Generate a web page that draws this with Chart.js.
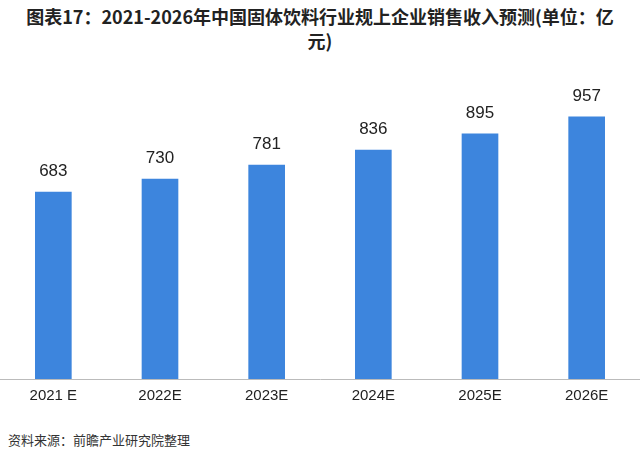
<!DOCTYPE html>
<html><head><meta charset="utf-8">
<script src="https://cdn.jsdelivr.net/npm/chart.js@4"></script>
<style>
body{margin:0;width:640px;height:464px;background:#fff;font-family:"Noto Sans CJK SC",sans-serif;position:relative;overflow:hidden}
#t{position:absolute;left:20px;top:4px;width:600px;font-size:18px;font-weight:bold;color:#222;line-height:24px;text-align:center}
#s{position:absolute;left:8px;top:430px;font-size:13px;color:#333}
#w{position:absolute;left:0;top:60px;width:640px;height:353px}
</style></head><body>
<div id="t">图表17：2021-2026年中国固体饮料行业规上企业销售收入预测(单位：亿元)</div>
<div id="w"><canvas id="c"></canvas></div>
<div id="s">资料来源：前瞻产业研究院整理</div>
<script>
const categories=["2021 E","2022E","2023E","2024E","2025E","2026E"];
const values=[683,730,781,836,895,957];
const labelPlugin={id:'lbl',afterDatasetsDraw(ch){const ctx=ch.ctx;const m=ch.getDatasetMeta(0);ctx.save();ctx.font='17px "Liberation Sans", Arial';ctx.fillStyle='#222';ctx.textAlign='center';ctx.textBaseline='bottom';m.data.forEach((b,i)=>ctx.fillText(values[i],b.x,b.y-12));ctx.restore();}};
new Chart(document.getElementById('c'),{type:'bar',data:{labels:categories,datasets:[{data:values,backgroundColor:'#3d85dd',barThickness:36}]},
options:{responsive:true,maintainAspectRatio:false,animation:false,layout:{padding:0},
plugins:{legend:{display:false},tooltip:{enabled:false}},
scales:{x:{grid:{display:false,drawTicks:false},border:{color:'#bbb'},ticks:{color:'#222',font:{size:15,family:'"Liberation Sans", Arial'},padding:8}},
y:{display:false,min:0,max:1165}}},plugins:[labelPlugin]});
</script></body></html>
